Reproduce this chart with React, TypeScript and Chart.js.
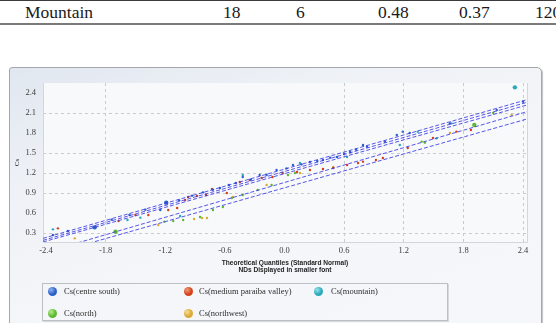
import React, { useEffect, useRef } from "react";
import { Chart, registerables } from "chart.js";

Chart.register(...registerables);

// ---------- table row shown above the chart ----------
const tableRow = ["Mountain", "18", "6", "0.48", "0.37", "120"];

// ---------- axes ----------
const xTickValues = [-2.4, -1.8, -1.2, -0.6, 0, 0.6, 1.2, 1.8, 2.4];
const xTickLabels = ["-2.4", "-1.8", "-1.2", "-0.6", "0.0", "0.6", "1.2", "1.8", "2.4"];
const yTickValues = [0.3, 0.6, 0.9, 1.2, 1.5, 1.8, 2.1, 2.4];
const yTickLabels = ["0.3", "0.6", "0.9", "1.2", "1.5", "1.8", "2.1", "2.4"];
const xGridValues = [-1.8, 0.6, 1.2, 1.8, 2.4];
const yGridValues = [0.3, 0.9, 1.2, 1.5, 2.1];
const xTitle = ["Theoretical Quantiles (Standard Normal)", "NDs Displayed in smaller font"];
const yTitle = "Cs";

// ---------- series ----------
const seriesNames = [
  "Cs(centre south)",
  "Cs(medium paraiba valley)",
  "Cs(mountain)",
  "Cs(north)",
  "Cs(northwest)",
];

const centreSouth: [number, number][] = [
  [-2.33, 0.27], [-2.18, 0.33], [-1.91, 0.385], [-1.74, 0.5], [-1.56, 0.57],
  [-1.4, 0.65], [-1.25, 0.645], [-1.19, 0.755], [-1.06, 0.79], [-0.93, 0.86],
  [-0.82, 0.91], [-0.72, 0.95], [-0.65, 0.975], [-0.56, 1.02], [-0.49, 1.05],
  [-0.42, 1.14], [-0.34, 1.1], [-0.25, 1.17], [-0.18, 1.17], [-0.08, 1.245],
  [0.02, 1.27], [0.085, 1.32], [0.17, 1.33], [0.256, 1.365], [0.33, 1.38],
  [0.387, 1.395], [0.46, 1.43], [0.528, 1.44], [0.6, 1.49], [0.66, 1.515],
  [0.72, 1.55], [0.79, 1.62], [0.83, 1.595], [1.01, 1.67], [1.13, 1.77],
  [1.19, 1.82], [1.26, 1.8], [1.665, 1.945], [2.135, 2.145], [2.4, 2.27],
];

const mediumParaibaValley: [number, number][] = [
  [-2.28, 0.37], [-1.67, 0.48], [-1.5, 0.57], [-1.37, 0.57], [-1.17, 0.645],
  [-1.08, 0.675], [-1.0, 0.795], [-0.97, 0.84], [-0.88, 0.855], [-0.79, 0.87],
  [-0.73, 0.96], [-0.58, 0.9], [-0.45, 1.065], [-0.35, 1.095], [-0.23, 1.125],
  [-0.12, 1.14], [-0.02, 1.2], [0.125, 1.215], [0.256, 1.245], [0.387, 1.26],
  [0.49, 1.275], [0.63, 1.32], [0.74, 1.35], [0.79, 1.37], [0.92, 1.395],
  [0.99, 1.425], [1.24, 1.575], [1.494, 1.725], [1.73, 1.82], [1.876, 1.845],
];

const mountain: [number, number][] = [
  [-2.33, 0.355], [-1.58, 0.495], [-1.45, 0.53], [-1.05, 0.555], [-0.42, 1.17],
  [0.155, 1.35], [0.63, 1.44], [1.16, 1.62], [1.34, 1.82], [1.53, 1.72],
  [1.68, 1.945], [2.318, 2.485],
];

const north: [number, number][] = [
  [-1.7, 0.32], [-1.21, 0.47], [-1.12, 0.48], [-1.02, 0.495], [-0.85, 0.54],
  [-0.72, 0.645], [-0.62, 0.69], [-0.53, 0.825], [-0.42, 0.87], [-0.27, 0.945],
  [-0.13, 1.02], [0.035, 1.17], [0.105, 1.2], [1.38, 1.67], [1.413, 1.655],
  [1.91, 1.92], [2.1, 2.1],
];

const northwest: [number, number][] = [
  [-2.11, 0.22], [-1.27, 0.42], [-0.91, 0.51], [-0.83, 0.525], [-0.78, 0.525],
  [-0.52, 0.84], [-0.18, 1.02], [0.155, 1.2], [0.49, 1.29], [1.665, 1.8],
  [2.285, 2.07],
];

// fitted reference lines: [start, end]
const fitLines: [number, number][][] = [
  [[-2.43, 0.22], [2.44, 2.3]],
  [[-2.43, 0.19], [2.44, 2.26]],
  [[-2.43, 0.165], [2.44, 2.22]],
  [[-2.43, 0.0], [2.44, 2.12]],
  [[-2.43, -0.05], [2.44, 2.01]],
];

// ---------- styles ----------
const seriesColors = ["#2b5fc9", "#d2421a", "#2aa9ba", "#5cb832", "#dba834"];
const seriesData = [centreSouth, mediumParaibaValley, mountain, north, northwest];
const legendLight = ["#8fb4f0", "#f39a78", "#9be3ec", "#b6ee8e", "#f7dd96"];
// indices of points drawn a little larger (per series)
const largerPointIdx: number[][] = [[2, 7], [], [11], [0, 15], []];

const near = (a: number, list: number[]) => list.some((v) => Math.abs(v - a) < 1e-6);

export default function App() {
  const ref = useRef<HTMLCanvasElement>(null);

  useEffect(() => {
    document.body.style.margin = "0";
    const bgPlugin = {
      id: "plotBg",
      beforeDraw(chart: any) {
        const { ctx, chartArea: a } = chart;
        ctx.save();
        ctx.fillStyle = "#f8f9fb";
        ctx.fillRect(a.left, a.top, a.right - a.left, a.bottom - a.top);
        ctx.restore();
      },
      beforeDatasetsDraw(chart: any) {
        const { ctx, chartArea: a } = chart;
        ctx.save();
        ctx.strokeStyle = "#d3d6da";
        ctx.lineWidth = 1;
        ctx.beginPath();
        ctx.moveTo(a.left + 0.5, a.top);
        ctx.lineTo(a.left + 0.5, a.bottom + 0.5);
        ctx.lineTo(a.right + 0.5, a.bottom + 0.5);
        ctx.lineTo(a.right + 0.5, a.top);
        ctx.stroke();
        ctx.restore();
      },
    };

    const datasets: any[] = [
      ...fitLines.map((l) => ({
        type: "line",
        data: l.map(([x, y]) => ({ x, y })),
        borderColor: "rgba(58,58,228,0.85)",
        borderWidth: 1,
        borderDash: [4, 2],
        pointRadius: 0,
        fill: false,
        tension: 0,
      })),
      ...seriesData.map((d, i) => ({
        type: "scatter",
        label: seriesNames[i],
        data: d.map(([x, y]) => ({ x, y })),
        backgroundColor: seriesColors[i],
        borderWidth: 0,
        pointRadius: d.map((_, j) => (largerPointIdx[i].includes(j) ? 2.2 : 1.2)),
      })),
    ];

    const tickFont = { family: '"Liberation Serif", "Times New Roman", serif', size: 8.5 };

    const chart = new Chart(ref.current!, {
      type: "scatter",
      data: { datasets },
      options: {
        animation: false,
        responsive: false,
        layout: { padding: { top: 83, right: 29, bottom: 49, left: 0 } },
        plugins: { legend: { display: false }, tooltip: { enabled: false } },
        scales: {
          x: {
            type: "linear",
            min: -2.43,
            max: 2.44,
            afterBuildTicks: (s: any) => {
              s.ticks = xTickValues.map((v) => ({ value: v }));
            },
            afterFit: (s: any) => {
              s.height = 32;
            },
            grid: {
              drawTicks: false,
              color: (c: any) => (c.tick && near(c.tick.value, xGridValues) ? "#c9cbcf" : "rgba(0,0,0,0)"),
            },
            border: { display: false, dash: [3, 3] },
            ticks: {
              padding: 4,
              autoSkip: false,
              maxRotation: 0,
              color: "#3a3a3a",
              font: tickFont,
              callback: (v: any) => {
                const i = xTickValues.findIndex((t) => Math.abs(t - v) < 1e-6);
                return i >= 0 ? xTickLabels[i] : "";
              },
            },
            title: {
              display: true,
              text: xTitle,
              color: "#1e1e1e",
              font: { family: '"Liberation Sans", Arial, sans-serif', size: 6.6, weight: "bold", lineHeight: 1.05 },
              padding: { top: 0, bottom: 0 },
            },
          },
          y: {
            type: "linear",
            min: 0.165,
            max: 2.55,
            afterBuildTicks: (s: any) => {
              s.ticks = yTickValues.map((v) => ({ value: v }));
            },
            afterFit: (s: any) => {
              s.width = 43;
            },
            grid: {
              drawTicks: false,
              color: (c: any) => (c.tick && near(c.tick.value, yGridValues) ? "#c9cbcf" : "rgba(0,0,0,0)"),
            },
            border: { display: false, dash: [3, 3] },
            ticks: {
              padding: 7,
              autoSkip: false,
              color: "#3a3a3a",
              font: tickFont,
              callback: (v: any) => {
                const i = yTickValues.findIndex((t) => Math.abs(t - v) < 1e-6);
                return i >= 0 ? yTickLabels[i] : "";
              },
            },
            title: {
              display: true,
              text: yTitle,
              color: "#2a2a2a",
              font: { family: '"Liberation Serif", serif', size: 7, lineHeight: 1 },
              padding: { top: 13.5, bottom: 0 },
            },
          },
        },
      } as any,
      plugins: [bgPlugin],
    });
    return () => chart.destroy();
  }, []);

  const cellLeft = [25, 223, 296, 378, 459, 535];
  const legendPos = [
    [52, 291, 64],
    [188, 291, 199],
    [318, 291, 331],
    [52, 313, 64],
    [188, 313, 199],
  ];

  return (
    <div style={{ position: "fixed", left: 0, top: 0, width: 556, height: 323, overflow: "hidden", background: "#fff" }}>
      {/* table row */}
      <div style={{ position: "absolute", left: 0, top: 0, width: 556, height: 1, background: "#3a3a3a" }} />
      {tableRow.map((t, i) => (
        <div
          key={i}
          style={{
            position: "absolute",
            left: cellLeft[i],
            top: 4,
            fontFamily: "'Liberation Serif', 'Times New Roman', serif",
            fontSize: 17.5,
            lineHeight: "17.5px",
            color: "#1a1a1a",
            whiteSpace: "nowrap",
          }}
        >
          {t}
        </div>
      ))}
      <div style={{ position: "absolute", left: 0, top: 22.5, width: 556, height: 2, background: "#7a7a7a" }} />

      {/* chart panel */}
      <div
        style={{
          position: "absolute",
          left: 9,
          top: 67,
          width: 531,
          height: 290,
          border: "1px solid #a4a7ab",
          borderTopLeftRadius: 3,
          borderTopRightRadius: 5,
          boxShadow: "1px 1px 1px rgba(0,0,0,0.25)",
          background: "linear-gradient(160deg, #e1e7f0 0%, #eef1f6 25%, #f5f6f9 55%, #f6f7f9 100%)",
        }}
      />
      <canvas ref={ref} width={556} height={323} style={{ position: "absolute", left: 0, top: 0 }} />

      {/* legend */}
      <div
        style={{
          position: "absolute",
          left: 42,
          top: 283,
          width: 404,
          height: 36,
          border: "1px solid #bcc0c6",
          boxShadow: "1px 1px 0 rgba(0,0,0,0.12)",
        }}
      />
      {seriesNames.map((n, i) => (
        <React.Fragment key={n}>
          <div
            style={{
              position: "absolute",
              left: legendPos[i][0] - 4.5,
              top: legendPos[i][1] - 4.5,
              width: 9,
              height: 9,
              borderRadius: "50%",
              background: `radial-gradient(circle at 35% 32%, ${legendLight[i]} 0%, ${seriesColors[i]} 55%, ${seriesColors[i]} 100%)`,
            }}
          />
          <div
            style={{
              position: "absolute",
              left: legendPos[i][2],
              top: legendPos[i][1] - 6,
              height: 12,
              lineHeight: "12px",
              fontFamily: "'Liberation Serif', 'Times New Roman', serif",
              fontSize: 8.5,
              color: "#2e2e2e",
              whiteSpace: "nowrap",
            }}
          >
            {n}
          </div>
        </React.Fragment>
      ))}
    </div>
  );
}
